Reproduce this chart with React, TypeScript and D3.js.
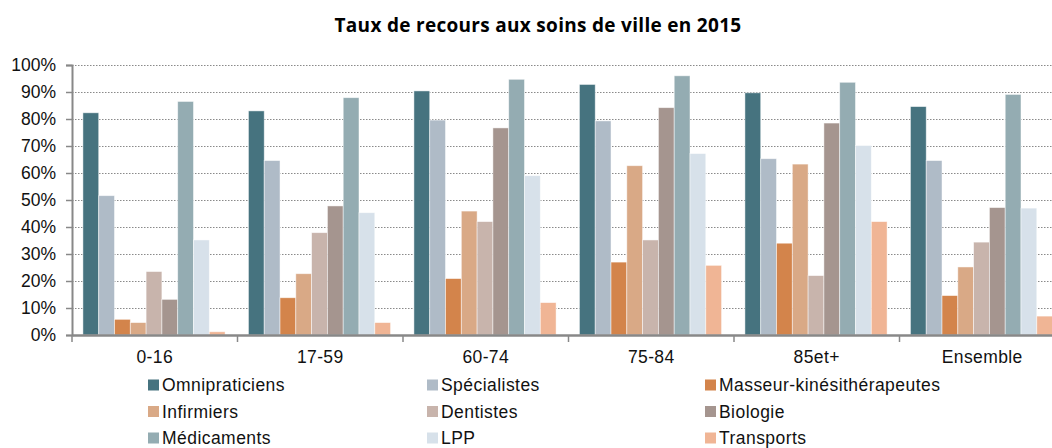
import * as d3 from "d3";
import {useEffect, useRef} from "react";

// categories (age groups) and series
const groups = ["0-16", "17-59", "60-74", "75-84", "85et+", "Ensemble"];
const series = [
    "Omnipraticiens", "Spécialistes", "Masseur-kinésithérapeutes",
    "Infirmiers", "Dentistes", "Biologie",
    "Médicaments", "LPP", "Transports"
];
const colors = [
    "#46737f", "#afbbc7", "#d3844b",
    "#d9a986", "#c8b4ac", "#a5958f",
    "#94acb2", "#d7e1ea", "#f0b595"
];

// values in %, one array per series, in the order of groups
const omnipraticiens = [82.3, 83, 90.4, 92.8, 89.7, 84.6];
const specialistes = [51.6, 64.6, 79.6, 79.3, 65.3, 64.6];
const masseurs = [5.8, 13.8, 20.9, 27, 34, 14.6];
const infirmiers = [4.6, 22.7, 45.9, 62.7, 63.3, 25.2];
const dentistes = [23.5, 37.9, 42, 35.2, 22, 34.4];
const biologie = [13.2, 47.8, 76.7, 84.2, 78.5, 47.2];
const medicaments = [86.5, 87.9, 94.7, 96, 93.6, 89.1];
const lpp = [35.2, 45.3, 59, 67.2, 70.2, 47];
const transports = [1.2, 4.6, 12, 25.8, 42, 7];

const values = [omnipraticiens, specialistes, masseurs, infirmiers, dentistes, biologie, medicaments, lpp, transports];
const yTicks = [0, 10, 20, 30, 40, 50, 60, 70, 80, 90, 100];

const title = "Taux de recours aux soins de ville en 2015";

export default function App() {
    const ref = useRef(null);

    useEffect(() => {
        const width = 1052;
        const height = 448;
        const left = 72, top = 65, bottom = 335, right = 1065;
        const font = "'Liberation Sans', Arial, sans-serif";

        const svg = d3.select(ref.current);
        svg.attr("width", width).attr("height", height);
        svg.selectAll("*").remove();

        const x0 = d3.scaleBand().domain(groups).range([left, right]);
        const bw = x0.bandwidth();
        const x1 = d3.scaleBand().domain(series).range([bw * 0.066, bw * 0.925]);
        const y = d3.scaleLinear().domain([0, 100]).range([bottom, top]);

        // title
        svg.append("text")
            .attr("x", 538).attr("y", 32)
            .attr("text-anchor", "middle")
            .attr("font-family", "'Open Sans', sans-serif")
            .attr("font-weight", "bold")
            .attr("font-size", 19)
            .attr("letter-spacing", 0.3)
            .text(title);

        // dotted gridlines
        svg.append("g").selectAll("line")
            .data(yTicks.filter(d => d > 0))
            .join("line")
            .attr("x1", left).attr("x2", width)
            .attr("y1", d => y(d) + 0.5).attr("y2", d => y(d) + 0.5)
            .attr("stroke", "#8a8a8a")
            .attr("stroke-width", 1.2)
            .attr("stroke-dasharray", "1.5,1.5");

        // bars
        const g = svg.append("g");
        groups.forEach((grp, gi) => {
            series.forEach((s, si) => {
                const v = values[si][gi];
                g.append("rect")
                    .attr("x", x0(grp) + x1(s))
                    .attr("y", y(v))
                    .attr("width", x1.bandwidth())
                    .attr("height", y(0) - y(v))
                    .attr("fill", colors[si])
                    .attr("stroke", "#ffffff")
                    .attr("stroke-opacity", 0.6)
                    .attr("stroke-width", 0.8);
            });
        });

        // y axis
        const yAxis = svg.append("g")
            .attr("transform", `translate(${left},0)`)
            .call(d3.axisLeft(y).tickValues(yTicks).tickSize(6).tickPadding(10).tickFormat(d => d + "%"));
        yAxis.select(".domain").attr("stroke", "#888").attr("stroke-width", 2);
        yAxis.selectAll(".tick line").attr("stroke", "#888").attr("stroke-width", 1.5);
        yAxis.selectAll(".tick text")
            .attr("font-family", font).attr("font-size", 17.5).attr("fill", "#111");

        // x axis
        const xAxis = svg.append("g")
            .attr("transform", `translate(0,${bottom})`)
            .call(d3.axisBottom(x0).tickSize(0).tickPadding(16));
        xAxis.select(".domain").attr("stroke", "#888").attr("stroke-width", 2.5);
        xAxis.selectAll(".tick text")
            .attr("font-family", font).attr("font-size", 17.5)
            .attr("letter-spacing", 0.4).attr("fill", "#111");
        // separator ticks between groups
        svg.append("g").selectAll("line")
            .data(groups)
            .join("line")
            .attr("x1", d => x0(d)).attr("x2", d => x0(d))
            .attr("y1", bottom).attr("y2", bottom + 7)
            .attr("stroke", "#888").attr("stroke-width", 1.5);

        // legend, 3 columns
        const colX = [148, 427, 705];
        const legend = svg.append("g");
        series.forEach((s, i) => {
            const cx = colX[i % 3];
            const cy = 385 + Math.floor(i / 3) * 26.5;
            legend.append("rect")
                .attr("x", cx).attr("y", cy - 5.5)
                .attr("width", 11).attr("height", 11)
                .attr("fill", colors[i]);
            legend.append("text")
                .attr("x", cx + 14).attr("y", cy)
                .attr("dy", "0.36em")
                .attr("font-family", font).attr("font-size", 17.5)
                .attr("letter-spacing", 0.45)
                .attr("fill", "#111")
                .text(s);
        });
    }, []);

    return <svg ref={ref} style={{position: "absolute", left: 0, top: 0}}></svg>;
}
